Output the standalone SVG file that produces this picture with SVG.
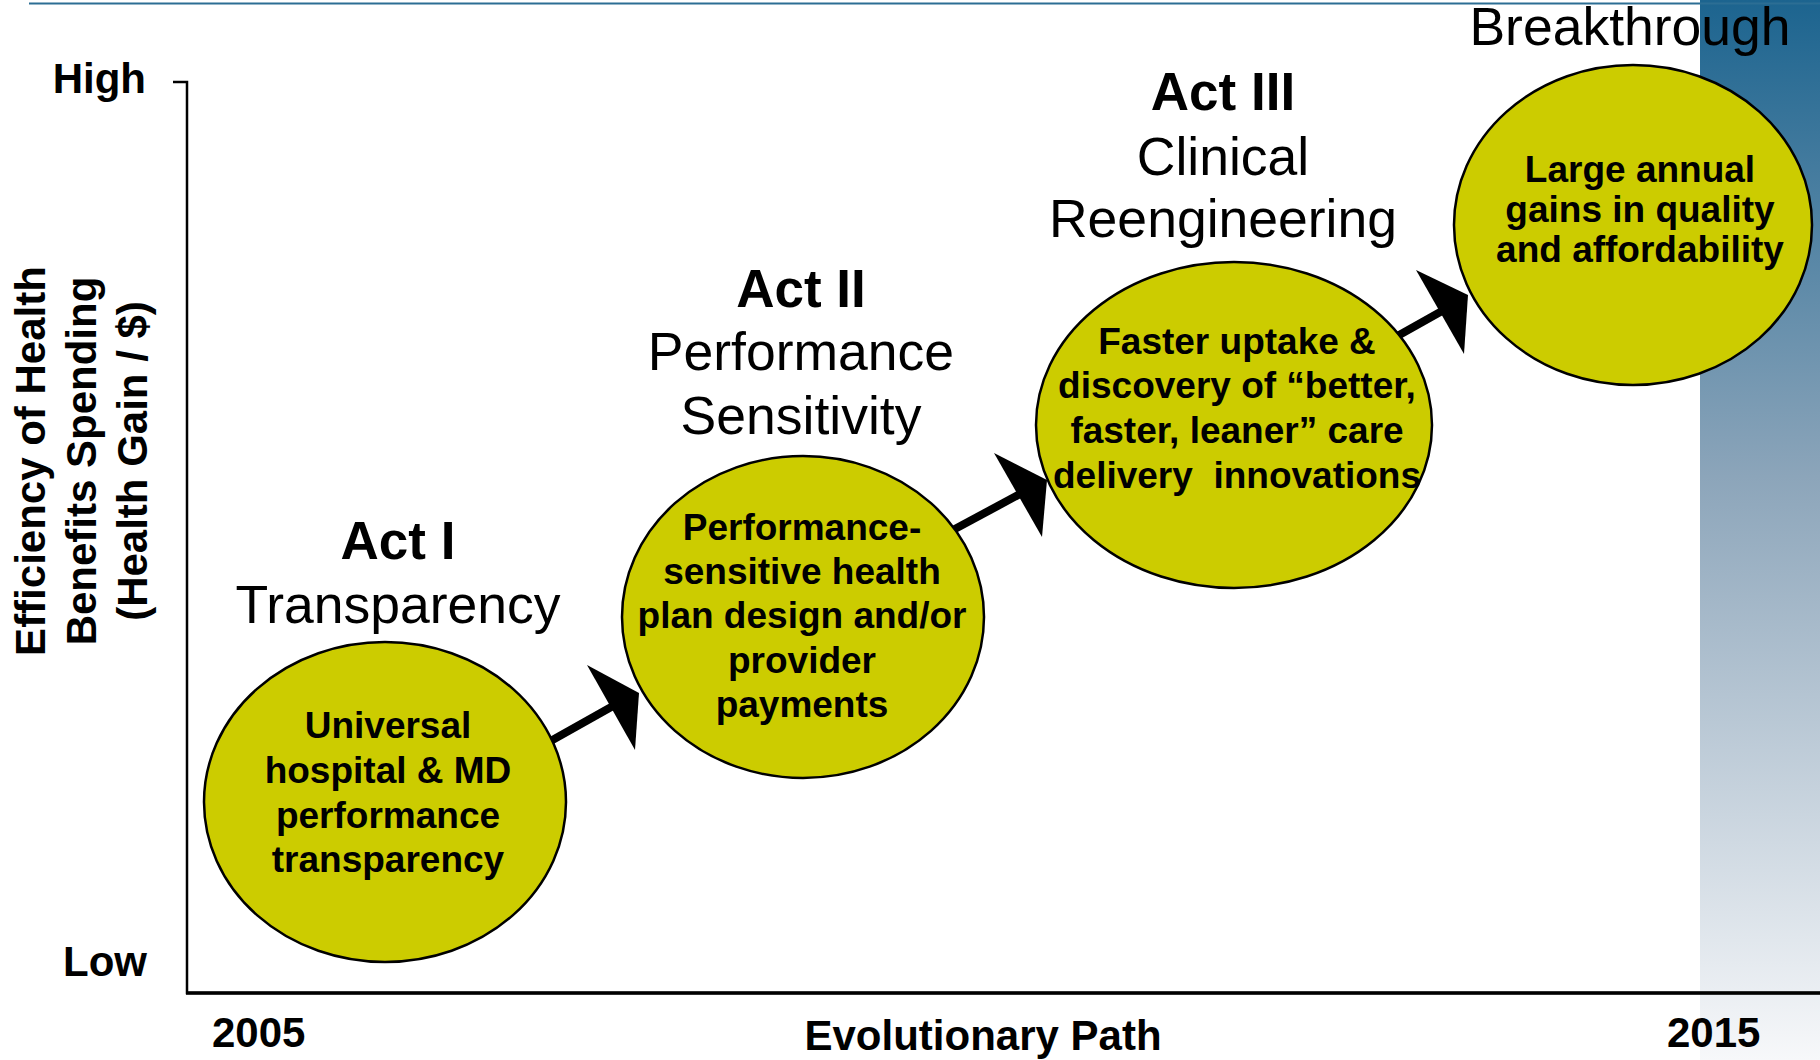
<svg xmlns="http://www.w3.org/2000/svg" width="1820" height="1060" viewBox="0 0 1820 1060">
  <style>
    text { font-family: "Liberation Sans", Arial, sans-serif; fill: #000; }
    .ax { font-size: 42px; font-weight: bold; }
    .act { font-size: 53px; font-weight: bold; text-anchor: middle; }
    .sub { font-size: 53.5px; text-anchor: middle; }
    .body { font-size: 37px; font-weight: bold; text-anchor: middle; }
    .stage { fill: #cccc00; stroke: #000; stroke-width: 2.5; }
    .link { stroke: #000; stroke-width: 8; fill: none; }
    .head { fill: #000; }
  </style>
  <defs>
    <linearGradient id="edgeFade" x1="0" y1="0" x2="0" y2="1">
      <stop offset="0" stop-color="#1c648f"/>
      <stop offset="0.45" stop-color="#8ca5ba"/>
      <stop offset="1" stop-color="#f7f8fa"/>
    </linearGradient>
  </defs>

  <rect width="1820" height="1060" fill="#fff"/>
  <!-- right-hand fade band -->
  <rect x="1700" y="0" width="120" height="1060" fill="url(#edgeFade)"/>
  <!-- header rule -->
  <line x1="29" y1="3.5" x2="1820" y2="3.5" stroke="#2c6e94" stroke-width="2"/>

  <!-- axes -->
  <g id="axes">
    <polyline points="173,82 187,82 187,993 1820,993" fill="none" stroke="#000" stroke-width="2.5"/>
    <line x1="186" y1="993" x2="1820" y2="993" stroke="#000" stroke-width="3.5"/>
    <text class="ax" x="146" y="93" text-anchor="end">High</text>
    <text class="ax" x="147" y="976" text-anchor="end">Low</text>
    <text class="ax" x="212" y="1047">2005</text>
    <text class="ax" x="983" y="1050" text-anchor="middle">Evolutionary Path</text>
    <text class="ax" x="1667" y="1047">2015</text>
    <g transform="translate(0,461) rotate(-90)" class="ax" text-anchor="middle">
      <text x="0" y="45">Efficiency of Health</text>
      <text x="0" y="96">Benefits Spending</text>
      <text x="0" y="147">(Health Gain / $)</text>
    </g>
  </g>

  <!-- connectors -->
  <g id="connectors">
    <line class="link" x1="540" y1="747" x2="613" y2="706"/>
    <polygon class="head" points="587,665 639,693 635,750"/>
    <line class="link" x1="940" y1="537" x2="1020" y2="494"/>
    <polygon class="head" points="994,453 1047,480 1042,537"/>
    <line class="link" x1="1385" y1="343" x2="1442" y2="311"/>
    <polygon class="head" points="1416,270 1468,295 1464,354"/>
  </g>

  <!-- Act I -->
  <g id="act1">
    <text class="act" x="398" y="559">Act I</text>
    <text class="sub" x="398" y="623">Transparency</text>
    <ellipse class="stage" cx="385" cy="802" rx="181" ry="160"/>
    <text class="body" x="388" y="738">Universal</text>
    <text class="body" x="388" y="783">hospital &amp; MD</text>
    <text class="body" x="388" y="828">performance</text>
    <text class="body" x="388" y="872">transparency</text>
  </g>

  <!-- Act II -->
  <g id="act2">
    <text class="act" x="801" y="307">Act II</text>
    <text class="sub" x="801" y="370">Performance</text>
    <text class="sub" x="801" y="434">Sensitivity</text>
    <ellipse class="stage" cx="803" cy="617" rx="181" ry="161"/>
    <text class="body" x="802" y="540">Performance-</text>
    <text class="body" x="802" y="584">sensitive health</text>
    <text class="body" x="802" y="628">plan design and/or</text>
    <text class="body" x="802" y="673">provider</text>
    <text class="body" x="802" y="717">payments</text>
  </g>

  <!-- Act III -->
  <g id="act3">
    <text class="act" x="1223" y="110">Act III</text>
    <text class="sub" x="1223" y="175">Clinical</text>
    <text class="sub" x="1223" y="237">Reengineering</text>
    <ellipse class="stage" cx="1234" cy="425" rx="198" ry="163"/>
    <text class="body" x="1237" y="354">Faster uptake &amp;</text>
    <text class="body" x="1237" y="398">discovery of “better,</text>
    <text class="body" x="1237" y="443">faster, leaner” care</text>
    <text class="body" x="1237" y="488" xml:space="preserve">delivery  innovations</text>
  </g>

  <!-- Breakthrough -->
  <g id="breakthrough">
    <text class="sub" x="1630" y="45">Breakthrough</text>
    <ellipse class="stage" cx="1633" cy="225" rx="179" ry="160"/>
    <text class="body" x="1640" y="182">Large annual</text>
    <text class="body" x="1640" y="222">gains in quality</text>
    <text class="body" x="1640" y="262">and affordability</text>
  </g>
</svg>
